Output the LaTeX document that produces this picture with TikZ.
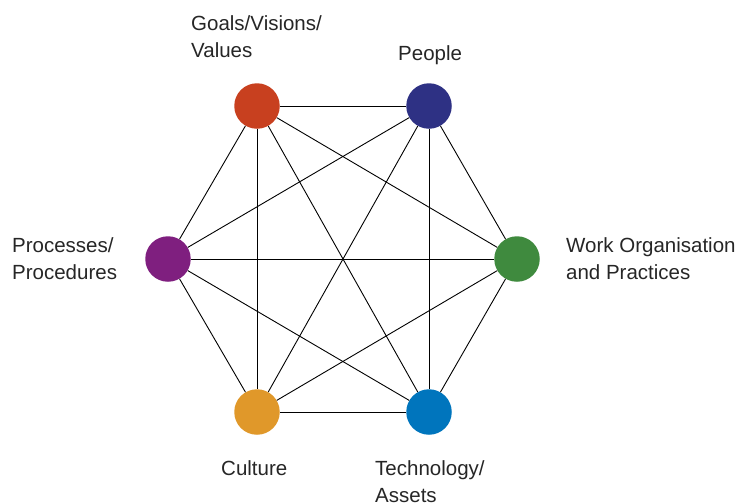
\documentclass[tikz,border=0pt]{standalone}
\usepackage{fontspec}
\setmainfont{Liberation Sans}
\definecolor{cgoal}{HTML}{C8401F}
\definecolor{cpeople}{HTML}{2E3184}
\definecolor{cwork}{HTML}{3F8A3E}
\definecolor{ctech}{HTML}{0075BD}
\definecolor{cculture}{HTML}{E0982A}
\definecolor{cproc}{HTML}{7F1F7F}
\tikzset{
  dot/.style={circle, minimum size=45.5pt, inner sep=0pt, fill=#1},
  lbl/.style={anchor=base west, align=left, inner sep=0pt, text=black!85,
              font=\fontsize{20.5}{26.5}\selectfont},
  link/.style={line width=0.9pt, black}
}
\begin{document}
\begin{tikzpicture}[x=1pt,y=-1pt]
\useasboundingbox (0,0) rectangle (740,504);
% factor nodes
\node[dot=cgoal]    (goal)    at (257,106) {};
\node[dot=cpeople]  (people)  at (429,106) {};
\node[dot=cwork]    (work)    at (517,259) {};
\node[dot=ctech]    (tech)    at (429,412) {};
\node[dot=cculture] (culture) at (257,412) {};
\node[dot=cproc]    (proc)    at (168,259) {};
% every factor is connected to every other
\foreach \a/\b in {goal/people,goal/work,goal/tech,goal/culture,goal/proc,
                   people/work,people/tech,people/culture,people/proc,
                   work/tech,work/culture,work/proc,
                   tech/culture,tech/proc,culture/proc}
  \draw[link] (\a) -- (\b);
% labels (multi-line labels are placed by their last line's baseline)
\node[lbl] (lgoal)    at (191,57)  {Goals/Visions/\\Values};
\node[lbl] (lpeople)  at (398,60)  {People};
\node[lbl] (lwork)    at (566,279) {Work Organisation\\and Practices};
\node[lbl] (lproc)    at (12,279)  {Processes/\\Procedures};
\node[lbl] (lculture) at (221,475) {Culture};
\node[lbl] (ltech)    at (375,502) {Technology/\\Assets};
\end{tikzpicture}
\end{document}
